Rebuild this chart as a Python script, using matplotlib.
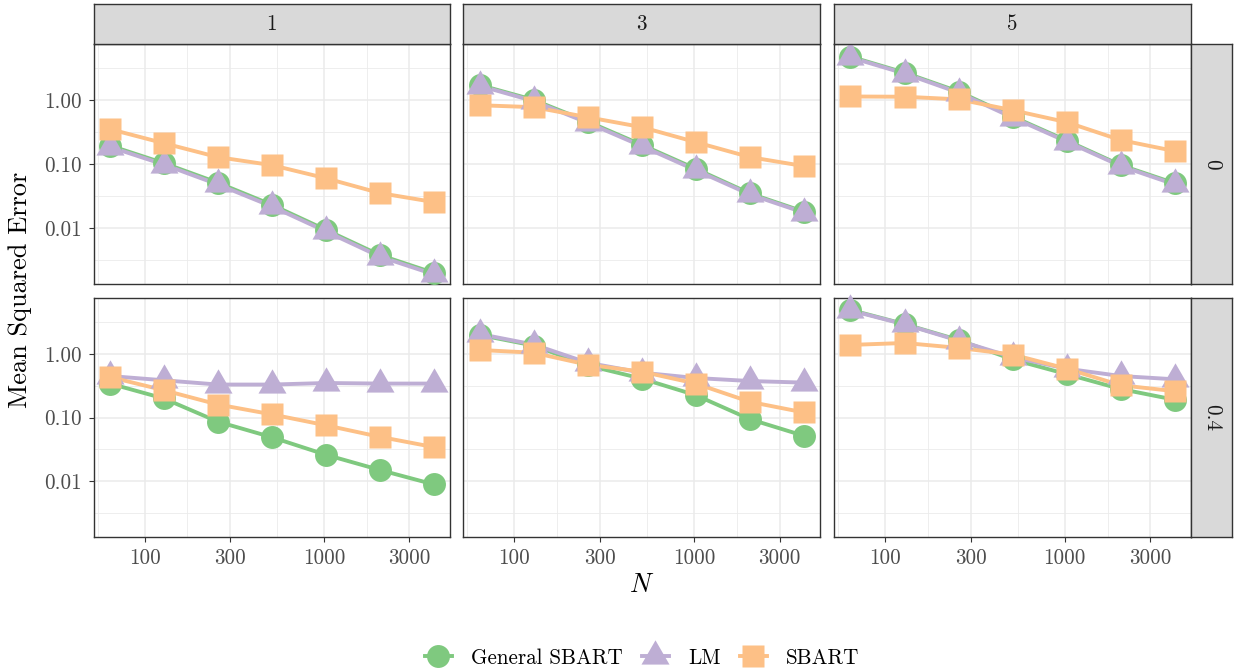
import numpy as np
import matplotlib.pyplot as plt
from matplotlib.lines import Line2D
from matplotlib.ticker import FixedLocator, NullFormatter, NullLocator

plt.rcParams['font.family'] = 'cmr10'
plt.rcParams['mathtext.fontset'] = 'cm'
plt.rcParams['axes.unicode_minus'] = False

# data
n_values = [64, 128, 256, 512, 1024, 2048, 4096]
p_values = ["1", "3", "5"]
noise_values = ["0", "0.4"]
methods = ["General SBART", "LM", "SBART"]

gsbart_p1_n0 = [0.194, 0.103, 0.051, 0.0231, 0.0094, 0.0038, 0.0020]
lm_p1_n0 = [0.185, 0.098, 0.048, 0.0218, 0.0089, 0.0036, 0.0019]
sbart_p1_n0 = [0.350, 0.211, 0.128, 0.096, 0.060, 0.0352, 0.0255]

gsbart_p3_n0 = [1.71, 1.00, 0.46, 0.199, 0.084, 0.0347, 0.0180]
lm_p3_n0 = [1.66, 0.96, 0.44, 0.190, 0.080, 0.0335, 0.0174]
sbart_p3_n0 = [0.826, 0.77, 0.537, 0.376, 0.219, 0.128, 0.0927]

gsbart_p5_n0 = [4.73, 2.66, 1.35, 0.55, 0.232, 0.096, 0.050]
lm_p5_n0 = [4.60, 2.58, 1.30, 0.53, 0.224, 0.093, 0.048]
sbart_p5_n0 = [1.13, 1.12, 1.02, 0.69, 0.449, 0.236, 0.159]

gsbart_p1_n4 = [0.341, 0.199, 0.086, 0.049, 0.026, 0.015, 0.0089]
lm_p1_n4 = [0.448, 0.384, 0.329, 0.329, 0.348, 0.341, 0.341]
sbart_p1_n4 = [0.432, 0.268, 0.160, 0.112, 0.0755, 0.0497, 0.0343]

gsbart_p3_n4 = [1.98, 1.35, 0.657, 0.408, 0.224, 0.094, 0.0515]
lm_p3_n4 = [2.05, 1.40, 0.724, 0.506, 0.417, 0.374, 0.353]
sbart_p3_n4 = [1.15, 1.04, 0.674, 0.525, 0.341, 0.176, 0.120]

gsbart_p5_n4 = [4.90, 2.93, 1.65, 0.815, 0.48, 0.28, 0.19]
lm_p5_n4 = [4.80, 2.90, 1.61, 0.885, 0.584, 0.448, 0.398]
sbart_p5_n4 = [1.38, 1.48, 1.24, 0.975, 0.584, 0.321, 0.259]

panels = {
    (0, 0): [gsbart_p1_n0, lm_p1_n0, sbart_p1_n0],
    (0, 1): [gsbart_p3_n0, lm_p3_n0, sbart_p3_n0],
    (0, 2): [gsbart_p5_n0, lm_p5_n0, sbart_p5_n0],
    (1, 0): [gsbart_p1_n4, lm_p1_n4, sbart_p1_n4],
    (1, 1): [gsbart_p3_n4, lm_p3_n4, sbart_p3_n4],
    (1, 2): [gsbart_p5_n4, lm_p5_n4, sbart_p5_n4],
}

colors = ["#7FC97F", "#BEAED4", "#FDC086"]
h = np.sqrt(3) / 2
tri = [(0, 2 * h / 3), (-0.5, -h / 3), (0.5, -h / 3)]
markers = ["o", tri, "s"]
msizes = [16.5, 23.3, 16.3]
draw_order = [1, 0, 2]  # LM below General SBART, SBART on top

W, H = 1235, 670
fig = plt.figure(figsize=(W / 100, H / 100), dpi=100)


def box(x0, y0, x1, y1):
    return [x0 / W, 1 - y1 / H, (x1 - x0) / W, (y1 - y0) / H]


col_x = [(93.7, 450), (463.3, 820.3), (834.3, 1191)]
row_y = [(44, 284), (298.3, 536.7)]
border = "#333333"

xlim = (10 ** 1.716, 10 ** 3.703)
ylim = (10 ** -2.872, 10 ** 0.872)

for (r, c), series in panels.items():
    x0, x1 = col_x[c]
    y0, y1 = row_y[r]
    ax = fig.add_axes(box(x0, y0, x1, y1))
    ax.set_xscale("log")
    ax.set_yscale("log")
    ax.set_xlim(*xlim)
    ax.set_ylim(*ylim)
    ax.xaxis.set_major_locator(FixedLocator([100, 300, 1000, 3000]))
    ax.xaxis.set_minor_locator(FixedLocator([10 ** 1.739, 10 ** 2.239, 10 ** 2.739, 10 ** 3.239]))
    ax.yaxis.set_major_locator(FixedLocator([0.01, 0.1, 1.0]))
    ax.yaxis.set_minor_locator(FixedLocator([10 ** -2.5, 10 ** -1.5, 10 ** -0.5, 10 ** 0.5]))
    ax.xaxis.set_minor_formatter(NullFormatter())
    ax.yaxis.set_minor_formatter(NullFormatter())
    ax.grid(True, which="major", color="#EBEBEB", lw=1.1)
    ax.grid(True, which="minor", color="#EBEBEB", lw=0.6)
    ax.set_axisbelow(True)
    for s in ax.spines.values():
        s.set_color(border)
        s.set_linewidth(1.0)
    ax.tick_params(which="minor", length=0)
    ax.tick_params(which="major", length=3.7, width=0.8, color=border,
                   labelsize=15.2, labelcolor="#4D4D4D")
    ax.tick_params(axis="x", pad=5)
    ax.tick_params(axis="y", pad=5)
    if r == 1:
        ax.set_xticklabels(["100", "300", "1000", "3000"])
    else:
        ax.tick_params(axis="x", which="major", length=0, labelbottom=False)
    if c == 0:
        ax.set_yticklabels(["0.01", "0.10", "1.00"])
    else:
        ax.tick_params(axis="y", which="major", length=0, labelleft=False)

    for k in draw_order:
        ax.plot(n_values, series[k], color=colors[k], lw=2.8, zorder=2 + k * 0.01,
                solid_capstyle="butt", clip_on=False)
    for k in draw_order:
        ax.plot(n_values, series[k], ls="none", marker=markers[k], ms=msizes[k],
                mfc=colors[k], mec="none", zorder=3 + k * 0.01, clip_on=False)

# strips on top
for c, lab in enumerate(p_values):
    x0, x1 = col_x[c]
    sax = fig.add_axes(box(x0, 4, x1, 44))
    sax.set_facecolor("#D9D9D9")
    sax.set_xticks([])
    sax.set_yticks([])
    for s in sax.spines.values():
        s.set_color(border)
        s.set_linewidth(1.0)
    sax.text(0.5, 0.5, lab, transform=sax.transAxes, ha="center", va="center",
             fontsize=15.2, color="#1A1A1A")

# strips on the right
for r, lab in enumerate(noise_values):
    y0, y1 = row_y[r]
    sax = fig.add_axes(box(1191, y0, 1232, y1))
    sax.set_facecolor("#D9D9D9")
    sax.set_xticks([])
    sax.set_yticks([])
    for s in sax.spines.values():
        s.set_color(border)
        s.set_linewidth(1.0)
    sax.text(0.5, 0.5, lab, transform=sax.transAxes, ha="center", va="center",
             fontsize=15.2, color="#1A1A1A", rotation=-90)

fig.text(642 / W, 1 - 585 / H, r"$N$", ha="center", va="center", fontsize=19)
fig.text(20 / W, 1 - 290 / H, "Mean Squared Error", ha="center", va="center",
         fontsize=19, rotation=90)

handles = [Line2D([], [], color=colors[k], lw=2.8, marker=markers[k], ms=msizes[k],
                  mfc=colors[k], mec="none") for k in range(3)]
fig.legend(handles, methods, loc="center", bbox_to_anchor=(642 / W, 1 - 658 / H),
           ncol=3, frameon=False, fontsize=15.2, handlelength=1.3,
           handletextpad=0.9, columnspacing=0.9)

fig.savefig("out.png", dpi=100)
